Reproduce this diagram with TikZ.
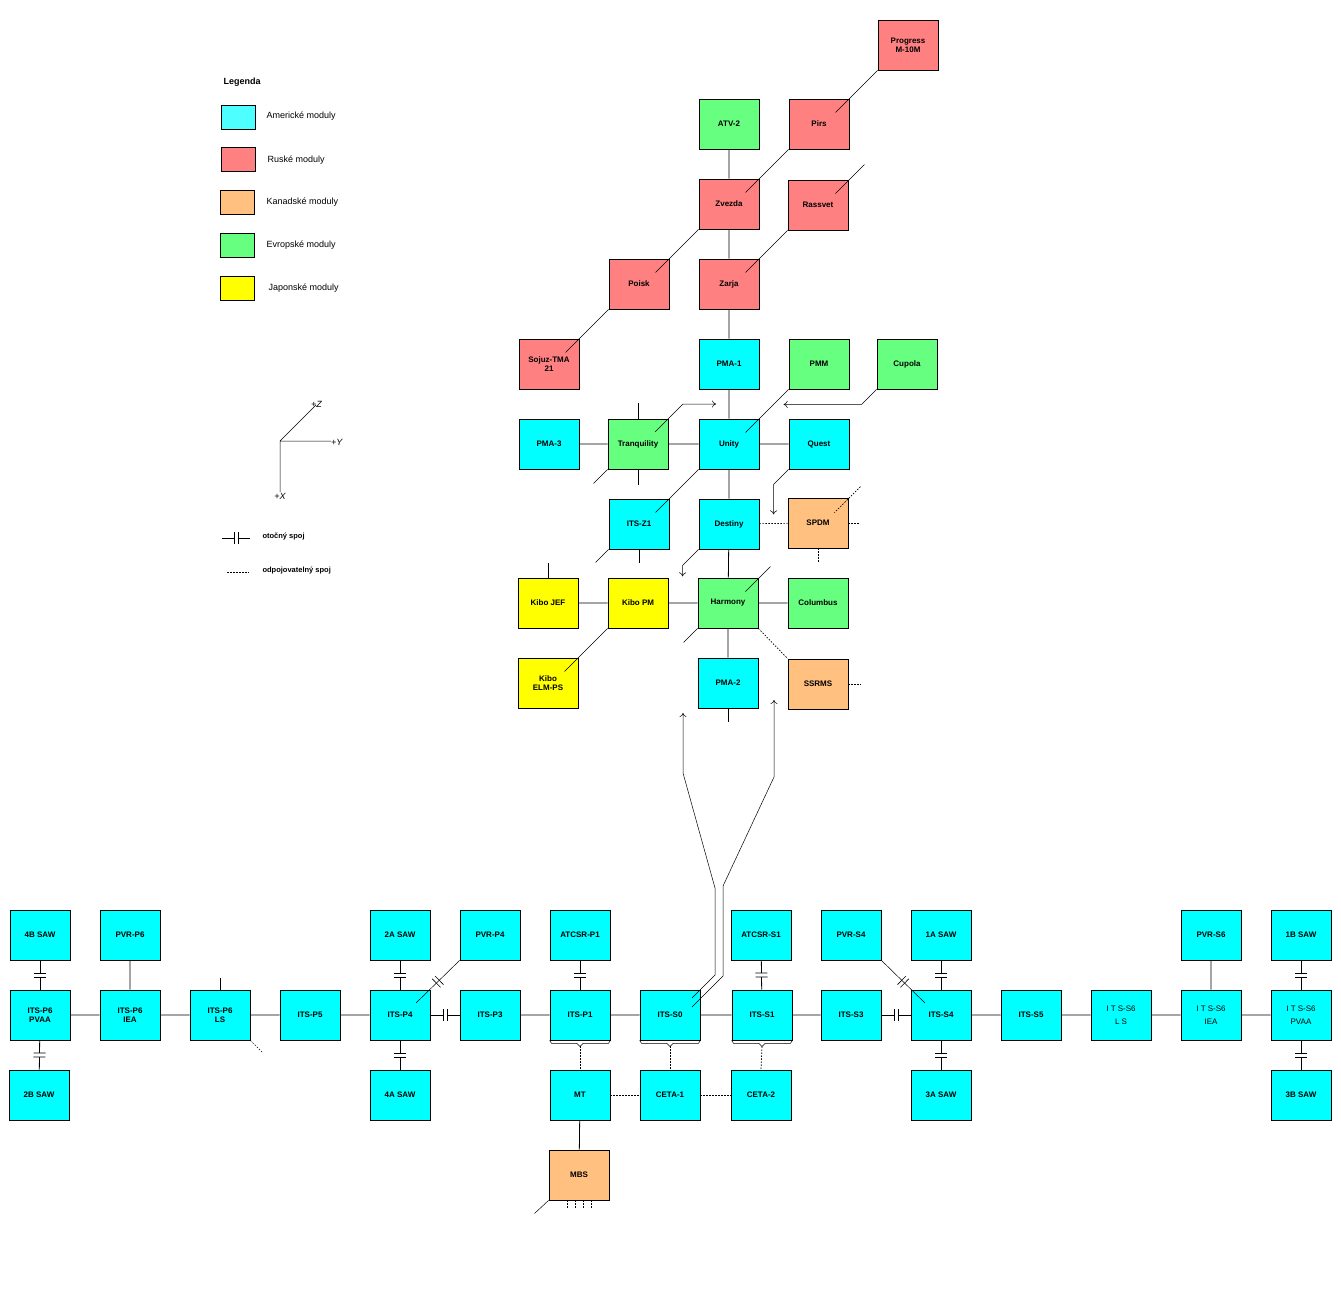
\documentclass[tikz,border=0pt]{standalone}
\usepackage{fontspec}
\setmainfont{Liberation Sans}
\usetikzlibrary{decorations.markings,calc,arrows.meta}
\definecolor{cAm}{HTML}{00FFFF}
\definecolor{cAmL}{HTML}{4DFFFF}
\definecolor{cRu}{HTML}{FF8080}
\definecolor{cCa}{HTML}{FFC080}
\definecolor{cEu}{HTML}{66FF80}
\definecolor{cJa}{HTML}{FFFF00}
\begin{document}
\begin{tikzpicture}[x=1pt,y=-1pt,
  box/.style={draw,line width=0.8pt,minimum width=60pt,minimum height=50pt,inner sep=0pt,align=center,font=\fontsize{8}{9}\selectfont\bfseries},
  am/.style={box,fill=cAm}, ru/.style={box,fill=cRu}, ca/.style={box,fill=cCa},
  eu/.style={box,fill=cEu}, ja/.style={box,fill=cJa},
  conn/.style={line width=0.8pt},
  thin/.style={line width=0.5pt},
  dots/.style={line width=0.7pt,dash pattern=on 1.5pt off 1.5pt},
  arr/.style={thin,-{To[length=4pt,width=7pt]}},
  rotj/.style={conn,postaction={decorate},decoration={markings,mark=at position 0.5 with {\fill[white] (-2pt,-5pt) rectangle (2pt,5pt); \draw[line width=0.7pt] (-2pt,-6pt)--(-2pt,6pt) (2pt,-6pt)--(2pt,6pt);}}},
  rotd/.style={thin,postaction={decorate},decoration={markings,mark=at position 0.5 with {\draw[line width=0.6pt] (-2pt,-6pt)--(-2pt,6pt) (2pt,-6pt)--(2pt,6pt);}}},
  lg/.style={font=\fontsize{9}{10}\selectfont,anchor=west}
]
\useasboundingbox (0,0) rectangle (1341,1300);
% Legend
\node[anchor=west,font=\fontsize{9}{10}\selectfont\bfseries] (leg) at (220,82) {Legenda};
\node[draw,fill=cAmL,minimum width=34pt,minimum height=24pt,inner sep=0pt] (s1) at (238,117) {};
\node[draw,fill=cRu,minimum width=34pt,minimum height=24pt,inner sep=0pt] (s2) at (238,159) {};
\node[draw,fill=cCa,minimum width=34pt,minimum height=24pt,inner sep=0pt] (s3) at (237,202) {};
\node[draw,fill=cEu,minimum width=34pt,minimum height=24pt,inner sep=0pt] (s4) at (237,245) {};
\node[draw,fill=cJa,minimum width=34pt,minimum height=24pt,inner sep=0pt] (s5) at (237,288) {};
\node[lg] (t1) at (263,116) {Americké moduly};
\node[lg] (t2) at (264,160) {Ruské moduly};
\node[lg] (t3) at (263,202) {Kanadské moduly};
\node[lg] (t4) at (263,245) {Evropské moduly};
\node[lg] (t5) at (265,288) {Japonské moduly};
% axes
\coordinate (o) at (280,441);
\coordinate (az) at (316,405);
\coordinate (ay) at (331,441);
\coordinate (ax) at (280,492);
\draw[thin] (o)--(az) (o)--(ay) (o)--(ax);
\node[anchor=south west,inner sep=0pt,font=\fontsize{9}{10}\selectfont\itshape] (lz) at (311,408) {+Z};
\node[anchor=west,inner sep=0pt,font=\fontsize{9}{10}\selectfont\itshape] (ly) at (331,442) {+Y};
\node[anchor=north,inner sep=0pt,font=\fontsize{9}{10}\selectfont\itshape] (lx) at (280,493) {+X};
\coordinate (r1) at (222,538); \coordinate (r2) at (250,538);
\draw[rotj] (r1)--(r2);
\node[anchor=west,font=\fontsize{7.5}{9}\selectfont\bfseries] (ro) at (259,536) {otočný spoj};
\coordinate (d1) at (227,572); \coordinate (d2) at (249,572);
\draw[dots,line width=0.5pt] (d1)--(d2);
\node[anchor=west,font=\fontsize{7.5}{9}\selectfont\bfseries] (dd) at (259,571) {odpojovatelný spoj};

% Top modules
\node[ru] (prog) at (908,45) {Progress\\M-10M};
\node[eu] (atv) at (729,124) {ATV-2};
\node[ru] (pirs) at (819,124) {Pirs};
\node[ru] (zvezda) at (729,204) {Zvezda};
\node[ru] (rassvet) at (818,205) {Rassvet};
\node[ru] (poisk) at (639,284) {Poisk};
\node[ru] (zarja) at (729,284) {Zarja};
\node[ru] (sojuz) at (549,364) {Sojuz-TMA\\21};
\node[am] (pma1) at (729,364) {PMA-1};
\node[eu] (pmm) at (819,364) {PMM};
\node[eu] (cupola) at (907,364) {Cupola};
\node[am] (pma3) at (549,444) {PMA-3};
\node[eu] (tranq) at (638,444) {Tranquility};
\node[am] (unity) at (729,444) {Unity};
\node[am] (quest) at (819,444) {Quest};
\node[am] (z1) at (639,524) {ITS-Z1};
\node[am] (destiny) at (729,524) {Destiny};
\node[ca] (spdm) at (818,523) {SPDM};
\node[ja] (jef) at (548,603) {Kibo JEF};
\node[ja] (kpm) at (638,603) {Kibo PM};
\node[eu] (harmony) at (728,603) {Harmony};
\node[eu] (columbus) at (818,603) {Columbus};
\node[ja] (elm) at (548,683) {Kibo\\ELM-PS};
\node[am] (pma2) at (728,683) {PMA-2};
\node[ca] (ssrms) at (818,684) {SSRMS};

\draw[conn] (atv)--(zvezda) (zvezda)--(zarja) (zarja)--(pma1) (pma1)--(unity)
  (unity)--(destiny) (destiny)--(harmony) (harmony)--(pma2)
  (pma3)--(tranq) (tranq)--(unity) (unity)--(quest)
  (jef)--(kpm) (kpm)--(harmony) (harmony)--(columbus);
\draw[conn] (pma2.south)--++(0,14);
\draw[conn] (tranq.north)--++(0,-16) (tranq.south)--++(0,16);
\draw[conn] (z1.south)--++(0,14);
\draw[conn] (jef.north)--++(0,-15);
\draw[thin] (prog.south west)--++(-42,42);
\draw[thin] (pirs.south west)--++(-43,43);
\draw[thin] (zvezda.south west)--++(-43,43);
\draw[thin] (poisk.south west)--++(-43,43);
\draw[thin] (rassvet.north east)++(16,-15)--++(-29,29);
\draw[thin] (rassvet.south west)--++(-42,42);
\draw[thin] (pmm.south west)--++(-43,43);
\draw[thin] (unity.south west)--++(-43,43);
\draw[thin] (tranq.south west)--++(-14,14);
\draw[thin] (z1.south west)--++(-13,13);
\draw[thin] (harmony.south west)--++(-14,14);
\draw[thin] (kpm.south west)--++(-43,43);
\draw[thin] (harmony.north east)++(12,-11)--++(-25,25);
\coordinate (ta) at (655,432);
\draw[arr] (ta)--++(28,-28)--++(33,0);
\draw[arr] (cupola.south west)--++(-15,15)--++(-78,0);
\draw[arr] (quest.south west)--++(-15,15)--++(0,30);
\draw[arr] (destiny.south west)--++(-16,16)--++(0,11);
\draw[dots] (destiny)--(spdm);
\draw[dots] (spdm.east)--++(12,0);
\draw[dots] (spdm.south)--++(0,15);
\draw[dots] (spdm.north east)++(12,-11)--++(-26,26);
\draw[dots] (harmony.south east)--(ssrms.north west);
\draw[dots] (ssrms.east)--++(13,0);

% Truss
\node[am] (p6pvaa) at (40,1015) {ITS-P6\\PVAA};
\node[am] (p6iea) at (130,1015) {ITS-P6\\IEA};
\node[am] (p6ls) at (220,1015) {ITS-P6\\LS};
\node[am] (p5) at (310,1015) {ITS-P5};
\node[am] (p4) at (400,1015) {ITS-P4};
\node[am] (p3) at (490,1015) {ITS-P3};
\node[am] (p1) at (580,1015) {ITS-P1};
\node[am] (s0) at (670,1015) {ITS-S0};
\node[am] (s1) at (762,1015) {ITS-S1};
\node[am] (s3) at (851,1015) {ITS-S3};
\node[am] (s4) at (941,1015) {ITS-S4};
\node[am] (s5) at (1031,1015) {ITS-S5};
\node[am,font=\fontsize{8}{13}\selectfont] (s6ls) at (1121,1015) {I T S-S6\\L S};
\node[am,font=\fontsize{8}{13}\selectfont] (s6iea) at (1211,1015) {I T S-S6\\IEA};
\node[am,font=\fontsize{8}{13}\selectfont] (s6pvaa) at (1301,1015) {I T S-S6\\PVAA};
\node[am] (b4) at (40,935) {4B SAW};
\node[am] (pvrp6) at (130,935) {PVR-P6};
\node[am] (a2) at (400,935) {2A SAW};
\node[am] (pvrp4) at (490,935) {PVR-P4};
\node[am] (atp1) at (580,935) {ATCSR-P1};
\node[am] (ats1) at (761,935) {ATCSR-S1};
\node[am] (pvrs4) at (851,935) {PVR-S4};
\node[am] (a1) at (941,935) {1A SAW};
\node[am] (pvrs6) at (1211,935) {PVR-S6};
\node[am] (b1) at (1301,935) {1B SAW};
\node[am] (b2) at (39,1095) {2B SAW};
\node[am] (a4) at (400,1095) {4A SAW};
\node[am] (mt) at (580,1095) {MT};
\node[am] (ceta1) at (670,1095) {CETA-1};
\node[am] (ceta2) at (761,1095) {CETA-2};
\node[am] (a3) at (941,1095) {3A SAW};
\node[am] (b3) at (1301,1095) {3B SAW};
\node[ca] (mbs) at (579,1175) {MBS};

\draw[conn] (p6pvaa)--(p6iea) (p6iea)--(p6ls) (p6ls)--(p5) (p5)--(p4)
  (p3)--(p1) (p1)--(s0) (s0)--(s1) (s1)--(s3) (s4)--(s5) (s5)--(s6ls)
  (s6ls)--(s6iea) (s6iea)--(s6pvaa) (pvrp6)--(p6iea) (pvrs6)--(s6iea) (mt)--(mbs);
\draw[rotj] (p4)--(p3);
\draw[rotj] (s3)--(s4);
\draw[rotj] (b4)--(p6pvaa);
\draw[rotj] (p6pvaa)--(b2);
\draw[rotj] (a2)--(p4);
\draw[rotj] (p4)--(a4);
\draw[rotj] (atp1)--(p1);
\draw[rotj] (ats1)--(s1);
\draw[rotj] (a1)--(s4);
\draw[rotj] (s4)--(a3);
\draw[rotj] (b1)--(s6pvaa);
\draw[rotj] (s6pvaa)--(b3);
\draw[conn] (p6ls.north)--++(0,-12);
\draw[dots,line width=0.5pt] (p6ls.south east)--++(12,12);
\coordinate (p4in) at (416,1003);
\draw[rotd] (pvrp4.south west)--(p4in);
\coordinate (s4in) at (925,1003);
\draw[rotd] (pvrs4.south east)--(s4in);
% braces
\foreach \n/\c in {p1/br1,s0/br2,s1/br3}{
  \draw[thin] ($(\n.south west)+(0,0)$)--++(2,3)--($(\n.south)+(-3,3)$)--++(3,3)coordinate(\c)--++(3,-3)--($(\n.south east)+(-2,3)$)--(\n.south east);
}
\draw[dots] (br1)--(mt.north);
\draw[dots] (br2)--(ceta1.north);
\draw[dots] (br3)--(ceta2.north);
\draw[dots] (mt)--(ceta1);
\draw[dots] (ceta1)--(ceta2);
\draw[thin] (mbs.south west)--++(-14,13);
\foreach \dx in {-12,-4,4,12}{\draw[dots,line width=0.5pt] ($(mbs.south)+(\dx,0)$)--++(0,9);}
% long feed lines
\coordinate (f1) at (692,998);
\coordinate (f2) at (692,1007);
\draw[arr] (f1)--(715,975)--(715,888)--(683,773)--(683,713);
\draw[arr] (f2)--(723,976)--(723,886)--(774,777)--(774,700);
\end{tikzpicture}
\end{document}
